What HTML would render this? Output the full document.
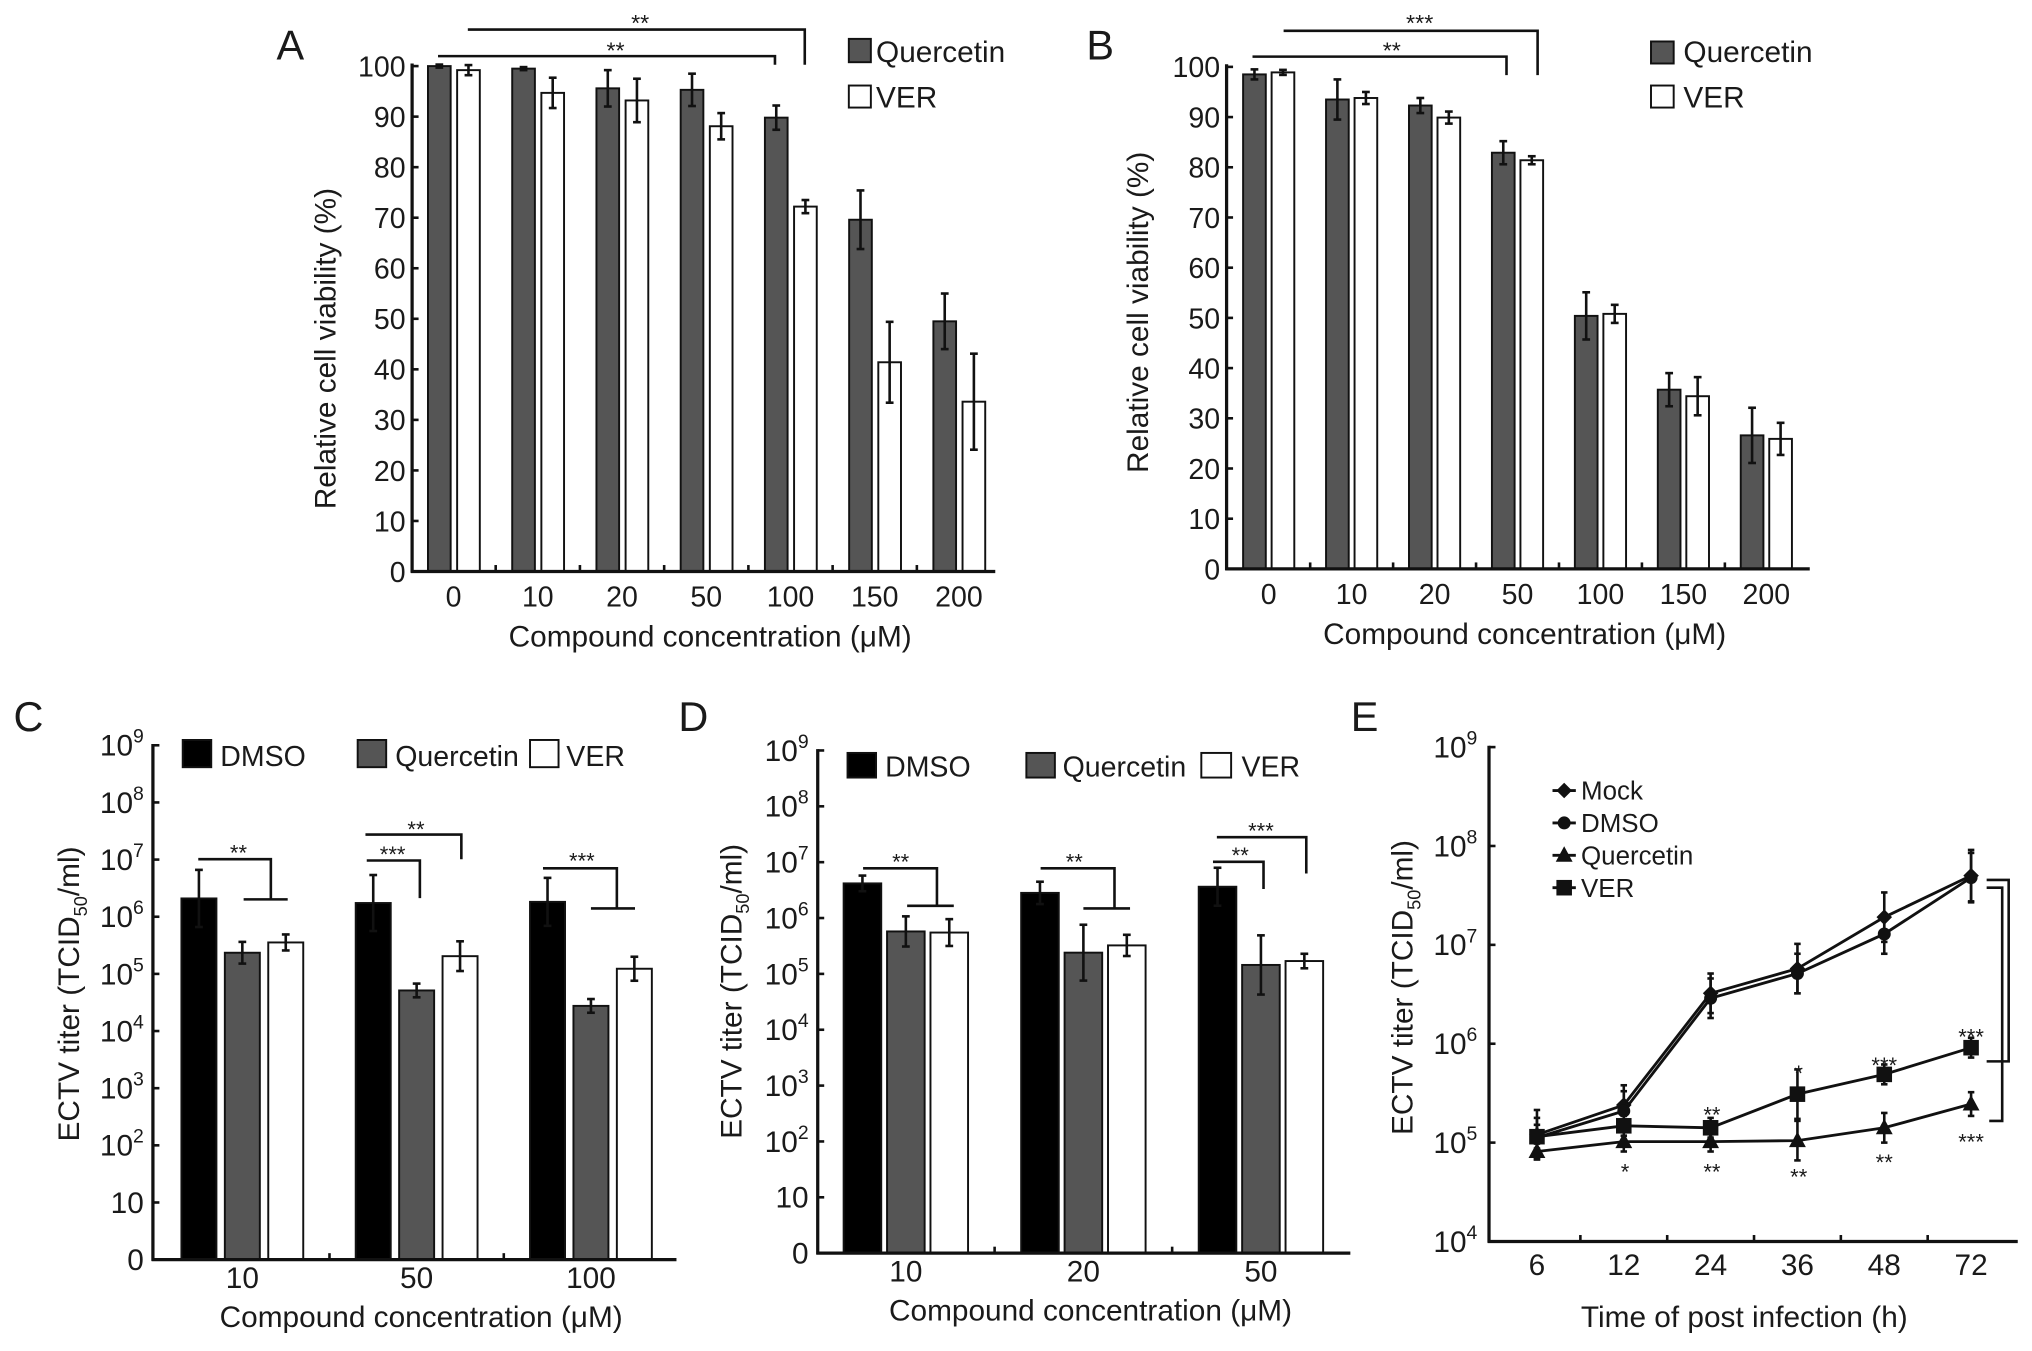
<!DOCTYPE html>
<html><head><meta charset="utf-8">
<style>
html,body{margin:0;padding:0;background:#fff;}
svg{display:block;}
text{font-family:"Liberation Sans",Arial,sans-serif;fill:#1a1a1a;}
</style></head>
<body>
<svg id="fig" width="2032" height="1351" viewBox="0 0 1568 1042.5" preserveAspectRatio="none" xmlns="http://www.w3.org/2000/svg">
<rect x="0" y="0" width="1568" height="1042.5" fill="#fff"/>
</svg>
<script>
// ---------- Panel A data ----------
const catsA = ['0','10','20','50','100','150','200'];
const qA = [100, 99.5, 95.6, 95.3, 89.8, 69.6, 49.5];
const qAerr = [0.3, 0.3, 3.6, 3.2, 2.4, 5.8, 5.5];
const vA = [99.2, 94.7, 93.2, 88.1, 72.2, 41.4, 33.6];
const vAerr = [1, 3, 4.3, 2.6, 1.3, 8, 9.5];
// ---------- Panel B data ----------
const catsB = ['0','10','20','50','100','150','200'];
const qB = [98.5, 93.5, 92.3, 82.9, 50.4, 35.7, 26.6];
const qBerr = [1, 4, 1.5, 2.3, 4.7, 3.3, 5.5];
const vB = [98.9, 93.8, 89.9, 81.4, 50.8, 34.4, 25.9];
const vBerr = [0.5, 1.2, 1.2, 0.8, 1.8, 3.8, 3.2];
const yTicksAB = [0,10,20,30,40,50,60,70,80,90,100];
// ---------- Panel C data (log10 titers) ----------
const catsC = ['10','50','100'];
const dmsoC = [6.32, 6.24, 6.26];
const dmsoCerr = [0.5, 0.49, 0.42];
const querC = [5.37, 4.71, 4.44];
const querCerr = [0.19, 0.12, 0.12];
const verC = [5.55, 5.31, 5.09];
const verCerr = [0.14, 0.26, 0.21];
// ---------- Panel D data (log10 titers) ----------
const catsD = ['10','20','50'];
const dmsoD = [6.62, 6.45, 6.56];
const dmsoDerr = [0.14, 0.2, 0.34];
const querD = [5.76, 5.38, 5.16];
const querDerr = [0.27, 0.5, 0.53];
const verD = [5.74, 5.51, 5.23];
const verDerr = [0.24, 0.19, 0.13];
const yTicksCD = ['0','10','10^2','10^3','10^4','10^5','10^6','10^7','10^8','10^9'];
// ---------- Panel E data (log10 titers) ----------
const timesE = ['6','12','24','36','48','72'];
const mockE = [5.08, 5.38, 6.51, 6.76, 7.28, 7.70];
const mockEerr = [0.25, 0.2, 0.2, 0.25, 0.25, 0.26];
const dmsoE = [5.05, 5.32, 6.46, 6.71, 7.11, 7.68];
const dmsoEerr = [0.2, 0.2, 0.2, 0.2, 0.2, 0.25];
const querE = [4.91, 5.01, 5.01, 5.02, 5.15, 5.39];
const querEerr = [0.08, 0.1, 0.1, 0.2, 0.15, 0.12];
const verE = [5.06, 5.17, 5.15, 5.49, 5.69, 5.96];
const verEerr = [0.12, 0.1, 0.1, 0.25, 0.1, 0.1];
const yTicksE = [4,5,6,7,8,9];

const NS = 'http://www.w3.org/2000/svg';
const svg = document.getElementById('fig');
const DARK = '#555555';

function mk(tag, attrs, name, parent){
  const el = document.createElementNS(NS, tag);
  for (const k in attrs) el.setAttribute(k, attrs[k]);
  
  
  (parent || svg).appendChild(el);
  return el;
}
function ln(x1,y1,x2,y2,name,w){ return mk('line',{x1,y1,x2,y2,stroke:'#111','stroke-width':w||2},name); }
function poly(pts,name,w){ return mk('polyline',{points:pts.map(p=>p.join(',')).join(' '),fill:'none',stroke:'#111','stroke-width':w||2},name); }
function tx(x,y,s,size,anchor,name,rot){
  const a = {x,y,'font-size':size,'text-anchor':anchor||'middle'};
  if (rot) a.transform = 'rotate(-90 '+x+' '+y+')';
  const t = mk('text',a,name);
  t.textContent = s;
  return t;
}
function powLabel(x,y,s,name){
  const t = mk('text',{x,y,'font-size':23,'text-anchor':'end'},name);
  if (s.indexOf('^')>=0){
    const parts = s.split('^');
    const a = document.createElementNS(NS,'tspan'); a.textContent = parts[0]; t.appendChild(a);
    const b = document.createElementNS(NS,'tspan'); b.setAttribute('dy','-10'); b.setAttribute('font-size','15'); b.textContent = parts[1]; t.appendChild(b);
  } else t.textContent = s;
  return t;
}
function errBar(x, yTop, yBot, name, cap){
  const c = cap || 3;
  ln(x,yTop,x,yBot,name,2);
  ln(x-c,yTop,x+c,yTop,name+'-cap-top',2);
  ln(x-c,yBot,x+c,yBot,name+'-cap-bottom',2);
}

// ---------- Linear bar panels (A, B) ----------
function barPanel(c){
  const y = v => c.y0 - v*c.k;
  const g = i => c.gc0 + i*c.sp;
  c.cats.forEach((cat,i)=>{
    const xq = g(i)+c.offQ, xv = g(i)+c.offV;
    mk('rect',{x:xq-c.bw/2,y:y(c.q[i]),width:c.bw,height:c.y0-y(c.q[i]),fill:DARK,stroke:'#111','stroke-width':1.5},c.p+'-bar-quercetin-'+cat);
    mk('rect',{x:xv-c.bw/2,y:y(c.v[i]),width:c.bw,height:c.y0-y(c.v[i]),fill:'#fff',stroke:'#111','stroke-width':1.5},c.p+'-bar-ver-'+cat);
    errBar(xq, y(c.q[i]+c.qe[i]), y(c.q[i]-c.qe[i]), c.p+'-err-quercetin-'+cat);
    errBar(xv, y(c.v[i]+c.ve[i]), y(c.v[i]-c.ve[i]), c.p+'-err-ver-'+cat);
    tx(g(i), c.y0+27, cat, 22, 'middle', c.p+'-x-tick-label');
    if (i < c.cats.length-1) ln(g(i)+c.sp/2, c.y0, g(i)+c.sp/2, c.y0-5, c.p+'-x-tick', 2);
  });
  ln(c.axisX, y(100)-2, c.axisX, c.y0+1, c.p+'-y-axis', 2.5);
  ln(c.axisX-1, c.y0, c.axisEnd, c.y0, c.p+'-x-axis', 2.5);
  yTicksAB.forEach(t=>{
    ln(c.axisX, y(t), c.axisX+5, y(t), c.p+'-y-tick', 2);
    tx(c.axisX-5, y(t)+8, String(t), 22, 'end', c.p+'-y-tick-label');
  });
  tx(c.titleX, c.titleY, 'Relative cell viability (%)', 23, 'middle', c.p+'-y-axis-title', true);
  tx((c.axisX+c.axisEnd)/2+5, c.y0+58, 'Compound concentration (\u03bcM)', 23, 'middle', c.p+'-x-axis-title');
}
barPanel({p:'panel-a',cats:catsA,q:qA,qe:qAerr,v:vA,ve:vAerr,y0:441,k:3.9,axisX:318,axisEnd:768,gc0:350,sp:65,offQ:-11,offV:11.5,bw:17.5,titleX:259,titleY:269});
barPanel({p:'panel-b',cats:catsB,q:qB,qe:qBerr,v:vB,ve:vBerr,y0:439,k:3.874,axisX:946.5,axisEnd:1396.5,gc0:979,sp:64,offQ:-11,offV:11,bw:17.5,titleX:886,titleY:241});

// Panel A/B legends and significance
function legendSq(x,y,w,h,fill,name){ mk('rect',{x,y,width:w,height:h,fill,stroke:'#111','stroke-width':1.5},name); }
legendSq(655,30,17,18,DARK,'panel-a-legend-quercetin-swatch'); tx(676,48,'Quercetin',23,'start','panel-a-legend-quercetin');
legendSq(655,66,17,17,'#fff','panel-a-legend-ver-swatch'); tx(676,83,'VER',23,'start','panel-a-legend-ver');
legendSq(1274,32,17.5,17,DARK,'panel-b-legend-quercetin-swatch'); tx(1299,48,'Quercetin',23,'start','panel-b-legend-quercetin');
legendSq(1274,66,17.5,17,'#fff','panel-b-legend-ver-swatch'); tx(1299,83,'VER',23,'start','panel-b-legend-ver');
poly([[361,22.8],[621,22.8],[621,50]],'panel-a-sig-bracket-upper',2); tx(494,24,'**',18,'middle','panel-a-sig-stars-upper');
poly([[338,43.3],[598,43.3],[598,50]],'panel-a-sig-bracket-lower',2); tx(475,45,'**',18,'middle','panel-a-sig-stars-lower');
poly([[990.5,23.8],[1186.5,23.8],[1186.5,58]],'panel-b-sig-bracket-upper',2); tx(1095.5,24,'***',18,'middle','panel-b-sig-stars-upper');
poly([[966.5,43.7],[1162.5,43.7],[1162.5,58]],'panel-b-sig-bracket-lower',2); tx(1074,45,'**',18,'middle','panel-b-sig-stars-lower');
tx(224,46,'A',32,'middle','panel-a-label');
tx(849,46,'B',32,'middle','panel-b-label');

// ---------- Log bar panels (C, D) ----------
function logPanel(c){
  const y = L => c.y0 - L*c.k;
  const g = i => c.gc0 + i*c.sp;
  const series = [[c.d,c.de,'#000','dmso',-c.off],[c.q,c.qe,DARK,'quercetin',0],[c.v,c.ve,'#fff','ver',c.off]];
  c.cats.forEach((cat,i)=>{
    series.forEach(s=>{
      const x = g(i)+s[4];
      mk('rect',{x:x-c.bw/2,y:y(s[0][i]),width:c.bw,height:c.y0-y(s[0][i]),fill:s[2],stroke:'#111','stroke-width':1.5},c.p+'-bar-'+s[3]+'-'+cat);
      errBar(x, y(s[0][i]+s[1][i]), y(s[0][i]-s[1][i]), c.p+'-err-'+s[3]+'-'+cat, 3);
    });
    tx(g(i), c.y0+22, cat, 23, 'middle', c.p+'-x-tick-label');
    if (i < c.cats.length-1) ln(g(i)+c.sp/2, c.y0, g(i)+c.sp/2, c.y0-5, c.p+'-x-tick', 2);
  });
  ln(c.axisX, y(9)-1, c.axisX, c.y0+1, c.p+'-y-axis', 2.5);
  ln(c.axisX-1, c.y0, c.axisEnd, c.y0, c.p+'-x-axis', 2.5);
  yTicksCD.forEach((t,i)=>{
    ln(c.axisX, y(i), c.axisX+5, y(i), c.p+'-y-tick', 2);
    powLabel(c.axisX-7, y(i)+8, t, c.p+'-y-tick-label');
  });
  const t = tx(c.titleX, c.titleY, '', 23, 'middle', c.p+'-y-axis-title', true);
  const a = document.createElementNS(NS,'tspan'); a.textContent='ECTV titer (TCID'; t.appendChild(a);
  const b = document.createElementNS(NS,'tspan'); b.setAttribute('dy','6'); b.setAttribute('font-size','14'); b.textContent='50'; t.appendChild(b);
  const d = document.createElementNS(NS,'tspan'); d.setAttribute('dy','-6'); d.textContent='/ml)'; t.appendChild(d);
  tx((c.axisX+c.axisEnd)/2+5, c.y0+52, 'Compound concentration (\u03bcM)', 23, 'middle', c.p+'-x-axis-title');
}
logPanel({p:'panel-c',cats:catsC,d:dmsoC,de:dmsoCerr,q:querC,qe:querCerr,v:verC,ve:verCerr,y0:972,k:44.1,axisX:118,axisEnd:522,gc0:187,sp:134.5,off:33.5,bw:27,titleX:61,titleY:767});
logPanel({p:'panel-d',cats:catsD,d:dmsoD,de:dmsoDerr,q:querD,qe:querDerr,v:verD,ve:verDerr,y0:967,k:43.1,axisX:631,axisEnd:1042,gc0:699,sp:137,off:33.5,bw:29,titleX:572,titleY:765});

// legends C/D
legendSq(141,571,22,21,'#000','panel-c-legend-dmso-swatch'); tx(170,591,'DMSO',22,'start','panel-c-legend-dmso');
legendSq(276,571,22,21,DARK,'panel-c-legend-quercetin-swatch'); tx(305,591,'Quercetin',22,'start','panel-c-legend-quercetin');
legendSq(409,571,22,21,'#fff','panel-c-legend-ver-swatch'); tx(437,591,'VER',22,'start','panel-c-legend-ver');
legendSq(654,581,22,19,'#000','panel-d-legend-dmso-swatch'); tx(683,599,'DMSO',22,'start','panel-d-legend-dmso');
legendSq(792,581,22,19,DARK,'panel-d-legend-quercetin-swatch'); tx(820,599,'Quercetin',22,'start','panel-d-legend-quercetin');
legendSq(927,581,23,19,'#fff','panel-d-legend-ver-swatch'); tx(958,599,'VER',22,'start','panel-d-legend-ver');
// significance C
poly([[153,663],[209,663],[209,694]],'panel-c-sig-10',2); ln(188,694,222,694,'panel-c-sig-10-base',2); tx(184,664,'**',17,'middle','panel-c-sig-stars-10');
poly([[283,664],[324,664],[324,693]],'panel-c-sig-50-q',2); tx(303,665,'***',17,'middle','panel-c-sig-stars-50-q');
poly([[282,644],[356,644],[356,663]],'panel-c-sig-50-v',2); tx(321,646,'**',17,'middle','panel-c-sig-stars-50-v');
poly([[419,670],[476,670],[476,701]],'panel-c-sig-100',2); ln(456,701,490,701,'panel-c-sig-100-base',2); tx(449,670,'***',17,'middle','panel-c-sig-stars-100');
// significance D
poly([[666,670],[723,670],[723,699]],'panel-d-sig-10',2); ln(700,699,736,699,'panel-d-sig-10-base',2); tx(695,671,'**',17,'middle','panel-d-sig-stars-10');
poly([[803,670],[860,670],[860,701]],'panel-d-sig-20',2); ln(836,701,872,701,'panel-d-sig-20-base',2); tx(829,671,'**',17,'middle','panel-d-sig-stars-20');
poly([[936,665],[975,665],[975,686]],'panel-d-sig-50-q',2); tx(957,666,'**',17,'middle','panel-d-sig-stars-50-q');
poly([[939,646],[1008,646],[1008,674]],'panel-d-sig-50-v',2); tx(973,647,'***',17,'middle','panel-d-sig-stars-50-v');
tx(22,564,'C',32,'middle','panel-c-label');
tx(535,564,'D',32,'middle','panel-d-label');

// ---------- Panel E line chart ----------
const eY0 = 958, eK = 76.3, eAxisX = 1149, eAxisEnd = 1557;
const eY = L => eY0 - (L-4)*eK;
const eX = i => 1186 + i*67;
function marker(kind, x, y, name){
  if (kind==='diamond') mk('polygon',{points:[[x,y-6],[x+6,y],[x,y+6],[x-6,y]].join(' '),fill:'#111'},name);
  else if (kind==='circle') mk('circle',{cx:x,cy:y,r:5,fill:'#111'},name);
  else if (kind==='triangle') mk('polygon',{points:[[x,y-7],[x+6.5,y+5],[x-6.5,y+5]].join(' '),fill:'#111'},name);
  else mk('rect',{x:x-6,y:y-6,width:12,height:12,fill:'#111'},name);
}
const eSeries = [[mockE,mockEerr,'diamond','mock'],[dmsoE,dmsoEerr,'circle','dmso'],[querE,querEerr,'triangle','quercetin'],[verE,verEerr,'square','ver']];
eSeries.forEach(s=>{
  mk('polyline',{points:s[0].map((v,i)=>eX(i)+','+eY(v)).join(' '),fill:'none',stroke:'#111','stroke-width':2.2},'panel-e-line-'+s[3]);
  s[0].forEach((v,i)=>{
    errBar(eX(i), eY(v+s[1][i]), eY(v-s[1][i]), 'panel-e-err-'+s[3]+'-'+timesE[i], 2.5);
    marker(s[2], eX(i), eY(v), 'panel-e-point-'+s[3]+'-'+timesE[i]);
  });
});
timesE.forEach((t,i)=>{
  tx(eX(i), eY0+26, t, 23, 'middle', 'panel-e-x-tick-label');
  if (i < timesE.length-1) ln(eX(i)+33.5, eY0, eX(i)+33.5, eY0-5, 'panel-e-x-tick', 2);
});
ln(eAxisX, eY(9)-1, eAxisX, eY0+1, 'panel-e-y-axis', 2.5);
ln(eAxisX-1, eY0, eAxisEnd, eY0, 'panel-e-x-axis', 2.5);
yTicksE.forEach(t=>{
  ln(eAxisX, eY(t), eAxisX+5, eY(t), 'panel-e-y-tick', 2);
  powLabel(eAxisX-9, eY(t)+8, '10^'+t, 'panel-e-y-tick-label');
});
(function(){
  const t = tx(1090, 762, '', 23, 'middle', 'panel-e-y-axis-title', true);
  const a = document.createElementNS(NS,'tspan'); a.textContent='ECTV titer (TCID'; t.appendChild(a);
  const b = document.createElementNS(NS,'tspan'); b.setAttribute('dy','6'); b.setAttribute('font-size','14'); b.textContent='50'; t.appendChild(b);
  const d = document.createElementNS(NS,'tspan'); d.setAttribute('dy','-6'); d.textContent='/ml)'; t.appendChild(d);
})();
tx(1346, 1024, 'Time of post infection (h)', 23, 'middle', 'panel-e-x-axis-title');
tx(1053, 564, 'E', 32, 'middle', 'panel-e-label');
// legend E
const eLegend = [['Mock','diamond',610],['DMSO','circle',635],['Quercetin','triangle',660],['VER','square',685]];
eLegend.forEach(l=>{
  ln(1198,l[2],1216,l[2],'panel-e-legend-line-'+l[0].toLowerCase(),2.2);
  marker(l[1],1207,l[2],'panel-e-legend-marker-'+l[0].toLowerCase());
  tx(1220,l[2]+7,l[0],20,'start','panel-e-legend-'+l[0].toLowerCase());
});
// right brackets
poly([[1533,679],[1550,679],[1550,819],[1533,819]],'panel-e-sig-bracket-ver',2);
poly([[1533,685],[1545,685],[1545,865],[1535,865]],'panel-e-sig-bracket-quercetin',2);
// stars
const eStars = [
 [1254,902,'*'],[1321,858,'**'],[1321,902,'**'],[1388,826,'*'],[1388,906,'**'],
 [1454,820,'***'],[1454,895,'**'],[1521,798,'***'],[1521,879,'***']
];
eStars.forEach(s=>{ tx(s[0],s[1]+8,s[2],17,'middle','panel-e-sig-stars'); });
</script>
</body></html>
